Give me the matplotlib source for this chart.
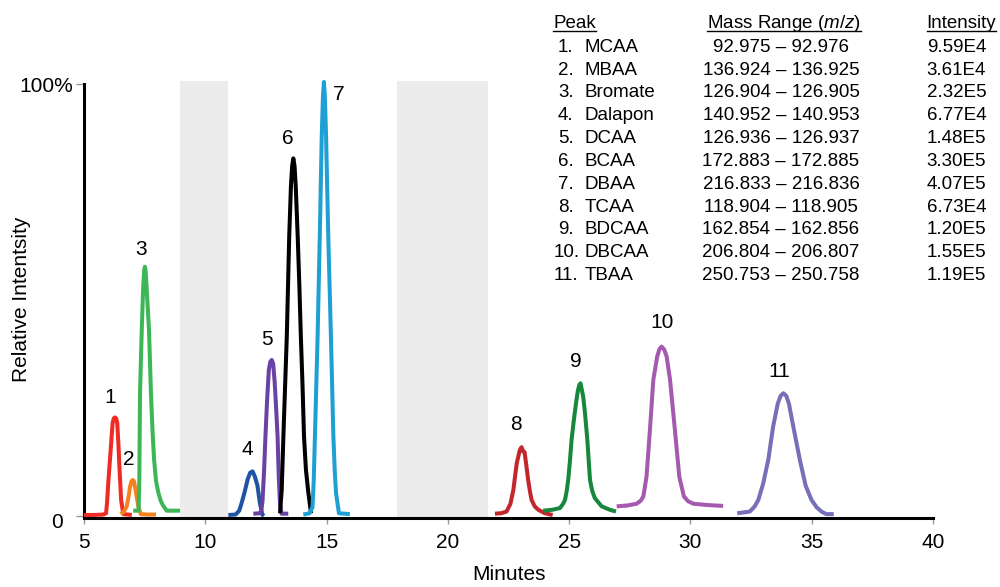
import matplotlib
matplotlib.use("Agg")
import matplotlib.pyplot as plt
from matplotlib.lines import Line2D
from matplotlib.transforms import ScaledTranslation

plt.rcParams['font.family'] = ['Liberation Sans', 'DejaVu Sans']
plt.rcParams['mathtext.fontset'] = 'custom'
plt.rcParams['mathtext.rm'] = 'Liberation Sans'
plt.rcParams['mathtext.it'] = 'Liberation Sans:italic'

# ---------------- data (time in minutes, relative intensity in %) ----------------
p1_t = [5.00, 5.40, 5.80, 5.91, 5.95, 6.00, 6.10, 6.18, 6.23, 6.28, 6.33, 6.37, 6.42, 6.46, 6.53, 6.62, 6.97]
p1_i = [0.2, 0.2, 0.3, 0.6, 3.0, 7.6, 15.3, 21.5, 22.6, 22.8, 22.5, 21.5, 16.5, 11.4, 3.7, 0.4, 0.2]

p2_t = [6.51, 6.65, 6.76, 6.84, 6.90, 6.96, 7.01, 7.06, 7.10, 7.17, 7.24, 7.34, 7.60, 7.97]
p2_i = [0.4, 1.0, 2.2, 4.5, 6.8, 8.0, 8.3, 8.0, 6.8, 4.5, 2.2, 0.4, 0.3, 0.3]

p3_t = [7.03, 7.25, 7.28, 7.31, 7.38, 7.44, 7.48, 7.51, 7.54, 7.58, 7.68, 7.76, 7.83, 7.89, 7.97, 8.06, 8.16, 8.27, 8.41, 8.96]
p3_i = [1.2, 1.2, 8.0, 28.5, 43.0, 53.0, 56.8, 57.7, 56.8, 53.0, 43.0, 28.5, 19.0, 13.0, 8.0, 5.5, 3.5, 2.3, 1.2, 1.2]

p4_t = [10.95, 11.25, 11.40, 11.50, 11.62, 11.75, 11.85, 11.95, 12.05, 12.15, 12.25, 12.35, 12.42]
p4_i = [0.2, 0.3, 1.2, 3.0, 5.5, 8.5, 10.0, 10.3, 9.0, 7.0, 3.0, 0.3, 0.0]

p5_t = [11.98, 12.25, 12.31, 12.36, 12.42, 12.48, 12.55, 12.62, 12.68, 12.74, 12.80, 12.86, 12.92, 12.98, 13.03, 13.08, 13.14, 13.42]
p5_i = [0.5, 0.6, 1.2, 3.5, 10.0, 18.4, 27.0, 33.8, 35.7, 36.1, 35.2, 31.0, 25.0, 18.4, 9.0, 3.0, 0.5, 0.5]

p6_t = [13.08, 13.15, 13.22, 13.29, 13.36, 13.46, 13.53, 13.58, 13.63, 13.68, 13.73, 13.81, 13.88, 13.94, 14.01, 14.07, 14.15, 14.25, 14.36]
p6_i = [0.6, 6.0, 18.4, 30.0, 41.5, 64.7, 76.2, 81.0, 82.8, 81.0, 76.2, 64.7, 53.0, 41.5, 30.0, 18.4, 10.6, 5.3, 0.6]

p7_t = [14.04, 14.30, 14.42, 14.47, 14.52, 14.63, 14.72, 14.80, 14.85, 14.89, 14.93, 14.98, 15.07, 15.18, 15.28, 15.34, 15.39, 15.51, 15.96]
p7_i = [0.3, 0.6, 2.0, 8.0, 18.4, 41.5, 64.7, 87.8, 97.0, 100.5, 97.0, 87.8, 64.7, 41.5, 18.4, 10.0, 5.3, 0.6, 0.4]

p8_t = [21.94, 22.20, 22.42, 22.58, 22.70, 22.84, 22.97, 23.04, 23.09, 23.16, 23.24, 23.31, 23.38, 23.45, 23.58, 23.73, 24.00, 24.32]
p8_i = [0.5, 0.6, 1.0, 2.8, 6.0, 12.2, 15.3, 15.9, 15.0, 14.8, 11.5, 8.3, 5.8, 3.7, 2.2, 1.4, 0.6, 0.2]

p9_t = [23.93, 24.30, 24.62, 24.75, 24.83, 24.90, 24.96, 25.03, 25.10, 25.19, 25.28, 25.36, 25.42, 25.47, 25.53, 25.58, 25.65, 25.75, 25.81, 25.86, 25.95, 26.06, 26.34, 26.68, 26.93]
p9_i = [1.2, 1.4, 1.8, 2.8, 3.7, 5.8, 8.3, 12.5, 17.6, 22.0, 26.0, 29.0, 30.3, 30.7, 29.0, 27.6, 24.0, 17.6, 12.5, 8.3, 5.8, 4.1, 2.2, 1.4, 1.0]

p10_t = [26.96, 27.40, 27.78, 27.95, 28.06, 28.19, 28.33, 28.47, 28.63, 28.72, 28.81, 28.92, 29.02, 29.16, 29.36, 29.54, 29.73, 29.90, 30.12, 30.70, 31.35]
p10_i = [2.2, 2.4, 2.8, 3.5, 4.5, 9.1, 19.9, 31.5, 36.9, 38.6, 39.2, 38.5, 36.9, 31.5, 19.9, 9.1, 4.5, 3.4, 2.8, 2.5, 2.3]

p11_t = [31.93, 32.20, 32.45, 32.65, 32.80, 33.00, 33.21, 33.41, 33.60, 33.72, 33.83, 33.95, 34.06, 34.24, 34.51, 34.75, 34.99, 35.20, 35.40, 35.60, 35.91]
p11_i = [0.6, 0.8, 1.0, 2.2, 3.7, 7.5, 13.0, 20.7, 26.0, 27.8, 28.4, 27.8, 26.0, 20.7, 13.0, 7.0, 3.7, 2.0, 1.0, 0.4, 0.4]

peak_colors = ['#ee2b24', '#f58220', '#3cb657', '#2053a3', '#6843a3', '#000000',
               '#1fa0d4', '#c1272d', '#17873d', '#a55ab0', '#7570b9']

peak_labels = ['1', '2', '3', '4', '5', '6', '7', '8', '9', '10', '11']
label_t = [6.07, 6.83, 7.37, 11.73, 12.53, 13.42, 15.48, 22.81, 25.28, 28.81, 33.66]
label_i = [27.3, 13.0, 61.6, 15.3, 40.9, 87.4, 97.6, 21.1, 35.7, 44.9, 33.4]

# blanked-out (diverted) time windows
band_start = [8.96, 17.90]
band_end = [10.94, 21.65]

x_ticks = [5, 10, 15, 20, 25, 30, 35, 40]

tbl_num = ['1.', '2.', '3.', '4.', '5.', '6.', '7.', '8.', '9.', '10.', '11.']
tbl_name = ['MCAA', 'MBAA', 'Bromate', 'Dalapon', 'DCAA', 'BCAA', 'DBAA', 'TCAA', 'BDCAA', 'DBCAA', 'TBAA']
tbl_mass = ['92.975 – 92.976', '136.924 – 136.925', '126.904 – 126.905', '140.952 – 140.953',
            '126.936 – 126.937', '172.883 – 172.885', '216.833 – 216.836', '118.904 – 118.905',
            '162.854 – 162.856', '206.804 – 206.807', '250.753 – 250.758']
tbl_int = ['9.59E4', '3.61E4', '2.32E5', '6.77E4', '1.48E5', '3.30E5', '4.07E5', '6.73E4',
           '1.20E5', '1.55E5', '1.19E5']

series_t = [p1_t, p2_t, p3_t, p4_t, p5_t, p6_t, p7_t, p8_t, p9_t, p10_t, p11_t]
series_i = [p1_i, p2_i, p3_i, p4_i, p5_i, p6_i, p7_i, p8_i, p9_i, p10_i, p11_i]

# ---------------- figure ----------------
W, H = 1000, 587
fig = plt.figure(figsize=(W / 100, H / 100), dpi=100)
ax = fig.add_axes([0.084, 1 - 518 / H, 0.849, (518 - 80.7) / H])

ax.set_xlim(5, 40)
ax.set_ylim(-0.5, 100.8)

for s, e in zip(band_start, band_end):
    ax.axvspan(s, e, color='#ececec', lw=0, zorder=0)

for t, i, c in zip(series_t, series_i, peak_colors):
    ax.plot(t, i, color=c, lw=2.9, solid_joinstyle='round', solid_capstyle='butt',
            clip_on=False, zorder=3)

for lab, x, y in zip(peak_labels, label_t, label_i):
    ax.text(x, y, lab, ha='center', va='center', fontsize=15, color='black', zorder=4)

for side in ['top', 'right']:
    ax.spines[side].set_visible(False)
ax.spines['left'].set_linewidth(2.2)
ax.spines['bottom'].set_linewidth(2.2)
ax.spines['left'].set_bounds(-0.5, 100)

ax.set_xticks(x_ticks)
ax.set_xticklabels([str(v) for v in x_ticks], fontsize=15)
ax.set_yticks([0, 100])
ax.set_yticklabels(['0', '100%'], fontsize=15)
ax.tick_params(axis='x', length=4.5, width=1, color='#999999', pad=6.5)
ax.tick_params(axis='y', length=6, width=1, color='#999999', pad=2)
# nudge the "0" label like the reference
ylabs = ax.get_yticklabels()
ylabs[0].set_transform(ylabs[0].get_transform() + ScaledTranslation(-10 / 100, -5 / 100, fig.dpi_scale_trans))

fig.text(509 / W, 1 - 575 / H, 'Minutes', ha='center', va='center', fontsize=15)
fig.text(22 / W, 1 - 299 / H, 'Relative Intentsity', ha='center', va='center',
         rotation=90, fontsize=15)

# ---------------- table ----------------
fs = 13.5
def fy(py):
    return 1 - py / H

hdr_base = 28.3
hdrs = [
    fig.text(553.3 / W, fy(hdr_base), 'Peak', ha='left', va='baseline', fontsize=fs),
    fig.text(784 / W, fy(hdr_base), r'Mass Range ($\mathit{m/z}$)', ha='center', va='baseline', fontsize=fs),
    fig.text(926.7 / W, fy(hdr_base), 'Intensity', ha='left', va='baseline', fontsize=fs),
]
row0 = 51.7
dy = 22.83
for k in range(len(tbl_name)):
    yb = fy(row0 + k * dy)
    xn = 554 if len(tbl_num[k]) > 2 else 558
    fig.text(xn / W, yb, tbl_num[k], ha='left', va='baseline', fontsize=fs)
    fig.text(585 / W, yb, tbl_name[k], ha='left', va='baseline', fontsize=fs)
    fig.text(781 / W, yb, tbl_mass[k], ha='center', va='baseline', fontsize=fs)
    fig.text(926.7 / W, yb, tbl_int[k], ha='left', va='baseline', fontsize=fs)

fig.canvas.draw()
r = fig.canvas.get_renderer()
for h in hdrs:
    bb = h.get_window_extent(renderer=r)
    fig.add_artist(Line2D([bb.x0 / W, bb.x1 / W], [fy(hdr_base + 2.4)] * 2,
                          transform=fig.transFigure, color='black', lw=1.0))

fig.savefig('out.png', dpi=100)
